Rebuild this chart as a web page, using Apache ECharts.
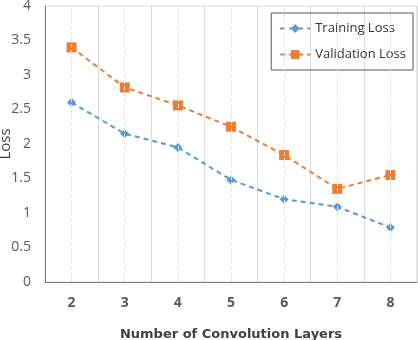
<!DOCTYPE html>
<html>
<head>
<meta charset="utf-8">
<script src="https://cdn.jsdelivr.net/npm/echarts@6/dist/echarts.min.js"></script>
<style>
  html, body { margin: 0; padding: 0; background: #fff; }
  #chart { width: 418px; height: 340px; }
</style>
</head>
<body>
<div id="chart"></div>
<script>
// number of convolution layers
var layers = ['2', '3', '4', '5', '6', '7', '8'];
var trainingLoss = [2.6, 2.15, 1.95, 1.48, 1.2, 1.09, 0.79];
var validationLoss = [3.4, 2.82, 2.56, 2.25, 1.84, 1.35, 1.55];
var yTicks = [0, 0.5, 1, 1.5, 2, 2.5, 3, 3.5, 4];

var font = '"Open Sans", "Noto Sans", sans-serif';
var blue = '#5B9BD5';
var orange = '#ED7D31';

var chart = echarts.init(document.getElementById('chart'));

// dashed guide at each category centre
var centreLines = layers.map(function (c) { return { xAxis: c }; });

chart.setOption({
  animation: false,
  textStyle: { fontFamily: font },
  grid: {
    left: 45, right: 1, top: 6, bottom: 58,
    outerBoundsMode: 'none',
    containLabel: false,
    show: true, borderColor: '#d9d9d9', borderWidth: 1
  },
  legend: {
    data: ['Training Loss', 'Validation Loss'],
    orient: 'vertical',
    right: 5, top: 13,
    itemWidth: 30, itemHeight: 11, itemGap: 13,
    padding: [9, 7, 9, 8],
    borderColor: '#595959', borderWidth: 1,
    textStyle: { fontFamily: font, fontSize: 13, color: '#333333', fontWeight: 500 }
  },
  xAxis: {
    type: 'category',
    data: layers,
    boundaryGap: true,
    name: 'Number of Convolution Layers',
    nameLocation: 'middle',
    nameGap: 46,
    nameMoveOverlap: false,
    nameTextStyle: { fontFamily: '"DejaVu Sans", sans-serif', fontSize: 13, fontWeight: 'bold', color: '#404040' },
    axisLine: { lineStyle: { color: '#7f7f7f', width: 1 } },
    axisTick: { show: false },
    axisLabel: { margin: 14, fontSize: 14, fontWeight: 'bold', color: '#595959' },
    splitLine: { show: true, lineStyle: { color: '#d9d9d9', width: 1 } }
  },
  yAxis: {
    type: 'value',
    min: yTicks[0], max: yTicks[yTicks.length - 1], interval: 0.5,
    name: 'Loss',
    nameLocation: 'middle',
    nameGap: 32,
    nameMoveOverlap: false,
    nameTextStyle: { fontFamily: font, fontSize: 15, color: '#404040' },
    axisLine: { show: true, lineStyle: { color: '#7f7f7f', width: 1 } },
    axisTick: { show: false },
    axisLabel: { margin: 14, fontSize: 14, color: '#595959', fontWeight: 500 },
    splitLine: { show: false }
  },
  series: [
    {
      name: 'guides',
      type: 'line',
      data: [],
      z: 1,
      silent: true,
      markLine: {
        silent: true,
        symbol: 'none',
        label: { show: false },
        lineStyle: { color: '#e3e3e3', type: 'dashed', width: 1 },
        data: centreLines
      }
    },
    {
      name: 'Training Loss',
      type: 'line',
      data: trainingLoss,
      z: 3,
      symbol: 'diamond',
      symbolSize: 9,
      itemStyle: { color: blue, borderWidth: 0 },
      lineStyle: { color: blue, width: 2, type: [5, 4] }
    },
    {
      name: 'Validation Loss',
      type: 'line',
      data: validationLoss,
      z: 3,
      symbol: 'rect',
      symbolSize: 10,
      itemStyle: { color: orange, borderWidth: 0 },
      lineStyle: { color: orange, width: 2, type: [5, 4] }
    }
  ]
});
</script>
</body>
</html>
